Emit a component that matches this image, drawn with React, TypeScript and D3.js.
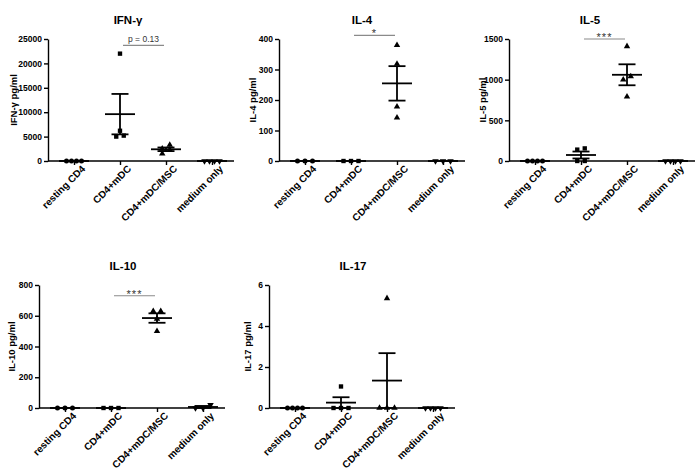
import React, { useEffect, useRef } from "react";
import * as d3 from "d3";

// Groups on the x axis (same for every panel)
const categories = ["resting CD4", "CD4+mDC", "CD4+mDC/MSC", "medium only"];

// Panel titles and y axis labels
const panelTitles = ["IFN-γ", "IL-4", "IL-5", "IL-10", "IL-17"];
const yLabels = ["IFN-γ pg/ml", "IL-4 pg/ml", "IL-5 pg/ml", "IL-10 pg/ml", "IL-17 pg/ml"];

// y axis extent and tick step per panel
const yMaxes = [25000, 400, 1500, 800, 6];
const yTickSteps = [5000, 100, 500, 200, 2];

// Individual donor values per group, pg/ml
const ifnValues = [[0, 0, 0, 0], [22000, 6200, 5000, 5200], [3300, 2500, 2300, 1500], [0, 0, 0, 0]];
const il4Values = [[0, 0, 0], [0, 0, 0], [380, 318, 178, 142], [0, 0, 0]];
const il5Values = [[0, 0, 0, 0], [155, 140, 0, 0], [1410, 1040, 1000, 790], [0, 0, 0, 0]];
const il10Values = [[0, 0, 0], [0, 0, 0], [630, 630, 580, 500], [20, 0, 0]];
const il17Values = [[0, 0, 0, 0], [1.05, 0, 0, 0], [5.35, 0, 0, 0], [0, 0, 0, 0]];
const panelValues = [ifnValues, il4Values, il5Values, il10Values, il17Values];

// Significance annotation between CD4+mDC and CD4+mDC/MSC (level in data units)
const sigLabels = ["p = 0.13", "*", "***", "***", null];
const sigLevels = [23700, 412, 1500, 730, null];

// Layout: x of the y axis, plot top/bottom, title position, y label offset
const layout = [
  { x0: 48, top: 39, bottom: 161, titleX: 128, titleY: 24, yLabelDx: 34 },
  { x0: 279, top: 39, bottom: 161, titleX: 362, titleY: 24, yLabelDx: 26 },
  { x0: 509, top: 39, bottom: 161, titleX: 590, titleY: 24, yLabelDx: 26 },
  { x0: 39, top: 285, bottom: 408, titleX: 123, titleY: 270, yLabelDx: 27 },
  { x0: 269, top: 285, bottom: 408, titleX: 353, titleY: 270, yLabelDx: 21 }
];

const symbolTypes = [d3.symbolCircle, d3.symbolSquare, d3.symbolTriangle, d3.symbolTriangle];
const symbolSizes = [20, 19, 18, 18];
const FONT = "'Liberation Sans', Arial, Helvetica, sans-serif";

// spread overlapping points sideways, like a scatter dot plot
function spreadOffsets(vals: number[], y: (v: number) => number) {
  const idx = vals.map((_, i) => i).sort((a, b) => vals[a] - vals[b]);
  const offsets = new Array(vals.length).fill(0);
  let i = 0;
  while (i < idx.length) {
    let j = i;
    const y0 = y(vals[idx[i]]);
    while (j + 1 < idx.length && Math.abs(y(vals[idx[j + 1]]) - y0) < 4.5) j++;
    const n = j - i + 1;
    const spacing = n >= 4 ? 5 : 7.5;
    for (let k = 0; k < n; k++) offsets[idx[i + k]] = (k - (n - 1) / 2) * spacing;
    i = j + 1;
  }
  return offsets;
}

export default function App() {
  const ref = useRef<SVGSVGElement>(null);

  useEffect(() => {
    const svg = d3.select(ref.current);
    svg.selectAll("*").remove();

    panelValues.forEach((groups, p) => {
      const L = layout[p];
      const g = svg.append("g").attr("font-family", FONT);

      const x = d3
        .scalePoint<string>()
        .domain(categories)
        .range([L.x0 + 26, L.x0 + 26 + 138]);
      const y = d3.scaleLinear().domain([0, yMaxes[p]]).range([L.bottom, L.top]);

      // title
      g.append("text")
        .attr("x", L.titleX)
        .attr("y", L.titleY)
        .attr("text-anchor", "middle")
        .attr("font-size", 11.5)
        .attr("font-weight", "bold")
        .text(panelTitles[p]);

      // y axis
      const ticks = d3.range(0, yMaxes[p] + yTickSteps[p] / 2, yTickSteps[p]);
      g.append("g")
        .attr("transform", `translate(${L.x0},0)`)
        .call(d3.axisLeft(y).tickValues(ticks).tickSize(4).tickSizeOuter(0).tickPadding(2).tickFormat(d3.format("d")))
        .call(a => a.selectAll("path, line").attr("stroke", "#000").attr("stroke-width", 1.4))
        .call(a =>
          a.selectAll("text").attr("font-size", 8.5).attr("font-weight", "bold").attr("font-family", FONT).attr("fill", "#000")
        );

      g.append("text")
        .attr("transform", `translate(${L.x0 - L.yLabelDx},${(L.top + L.bottom) / 2}) rotate(-90)`)
        .attr("text-anchor", "middle")
        .attr("dy", "0.35em")
        .attr("font-size", 9.5)
        .attr("font-weight", "bold")
        .text(yLabels[p]);

      // x axis
      const xAxis = g
        .append("g")
        .attr("transform", `translate(0,${L.bottom})`)
        .call(d3.axisBottom(x).tickSize(4).tickSizeOuter(0).tickPadding(4));
      xAxis.select(".domain").remove();
      xAxis.selectAll("line").attr("stroke", "#000").attr("stroke-width", 1.4);
      xAxis
        .append("line")
        .attr("x1", L.x0)
        .attr("x2", L.x0 + 186)
        .attr("stroke", "#000")
        .attr("stroke-width", 1.4);
      xAxis
        .selectAll(".tick text")
        .attr("font-size", 10)
        .attr("font-weight", "bold")
        .attr("font-family", FONT)
        .attr("fill", "#000")
        .attr("text-anchor", "end")
        .attr("dx", "0.2em")
        .attr("dy", "0.6em")
        .attr("transform", "rotate(-45)");

      // points
      groups.forEach((vals, c) => {
        const cx = x(categories[c])!;
        const offs = spreadOffsets(vals, y);
        const sym = d3.symbol().type(symbolTypes[c]).size(symbolSizes[c]);
        g.append("g")
          .selectAll("path")
          .data(vals)
          .join("path")
          .attr("d", sym()!)
          .attr("fill", "#000")
          .attr(
            "transform",
            (v, i) => `translate(${cx + offs[i]},${y(v)})` + (c === 3 ? " rotate(180)" : "")
          );

        // mean with SEM
        const m = d3.mean(vals)!;
        const sem = (d3.deviation(vals) || 0) / Math.sqrt(vals.length);
        const eb = g.append("g").attr("stroke", "#000").attr("stroke-width", 1.8);
        eb.append("line").attr("x1", cx - 15).attr("x2", cx + 15).attr("y1", y(m)).attr("y2", y(m));
        if (sem > 0) {
          eb.append("line").attr("x1", cx).attr("x2", cx).attr("y1", y(m - sem)).attr("y2", y(m + sem));
          [m - sem, m + sem].forEach(v =>
            eb.append("line").attr("x1", cx - 8.5).attr("x2", cx + 8.5).attr("y1", y(v)).attr("y2", y(v))
          );
        }
      });

      // significance bar
      if (sigLabels[p]) {
        const sy = y(sigLevels[p]!);
        const xa = x(categories[1])! + 3;
        const xb = x(categories[2])! - 2;
        g.append("line")
          .attr("x1", xa)
          .attr("x2", xb)
          .attr("y1", sy)
          .attr("y2", sy)
          .attr("stroke", "#8a8a8a")
          .attr("stroke-width", 1.1);
        const isP = sigLabels[p]!.startsWith("p");
        g.append("text")
          .attr("x", (xa + xb) / 2)
          .attr("y", isP ? sy - 3 : sy + 2)
          .attr("text-anchor", "middle")
          .attr("font-size", isP ? 8.5 : 11)
          .attr("fill", "#333")
          .attr("letter-spacing", isP ? 0 : 1)
          .text(sigLabels[p]!);
      }
    });
  }, []);

  return (
    <svg
      ref={ref}
      width={700}
      height={473}
      viewBox="0 0 700 473"
      style={{ position: "absolute", left: 0, top: 0, background: "#fff" }}
    />
  );
}
